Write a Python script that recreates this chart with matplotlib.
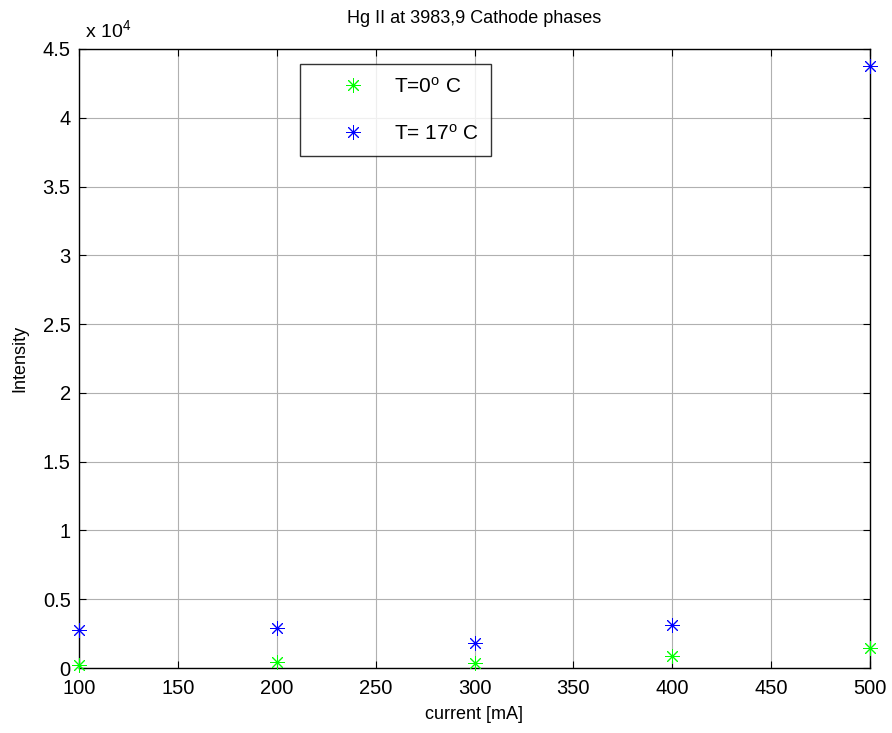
import matplotlib
matplotlib.use("Agg")
import matplotlib.pyplot as plt
from matplotlib.ticker import FuncFormatter, MultipleLocator

plt.rcParams['font.family'] = ['Liberation Sans', 'DejaVu Sans']
plt.rcParams['mathtext.fontset'] = 'custom'
plt.rcParams['mathtext.rm'] = 'Liberation Sans'
plt.rcParams['mathtext.it'] = 'Liberation Sans'

current = [100, 200, 300, 400, 500]
intensity_T0 = [250, 400, 350, 870, 1450]
intensity_T17 = [2750, 2900, 1800, 3100, 43750]

title = "Hg II at 3983,9 Cathode phases"
labels = ["T=0$^{\\mathrm{o}}$ C", "T= 17$^{\\mathrm{o}}$ C"]

fig = plt.figure(figsize=(8.92, 7.33), dpi=100)
ax = fig.add_axes([79/892, 1-668/733, (870-79)/892, (668-49)/733])

mk = (8, 2, 0)
ax.plot(current, intensity_T0, linestyle='none', marker=mk, color='#00ff00',
        markersize=10.5, markeredgewidth=0.7, label=labels[0], clip_on=False, zorder=5)
ax.plot(current, intensity_T17, linestyle='none', marker=mk, color='#0000ff',
        markersize=10.5, markeredgewidth=0.7, label=labels[1], clip_on=False, zorder=5)

ax.set_xlim(100, 500)
ax.set_ylim(0, 45000)
ax.xaxis.set_major_locator(MultipleLocator(50))
ax.yaxis.set_major_locator(MultipleLocator(5000))
ax.yaxis.set_major_formatter(FuncFormatter(lambda v, p: ('%g' % (v / 1e4))))
ax.grid(True, color='#b0b0b0', linewidth=0.8)
ax.set_axisbelow(True)
ax.tick_params(direction='in', length=5, labelsize=14.5, top=True, right=True, width=0.8)
ax.tick_params(axis='x', pad=8)
ax.tick_params(axis='y', pad=6)
for s in ax.spines.values():
    s.set_linewidth(1.0)

ax.set_xlabel("current [mA]", fontsize=13, labelpad=6)
ax.set_ylabel("Intensity", fontsize=13, labelpad=10)
ax.set_title(title, fontsize=13, pad=19)
ax.text(0.008, 1.012, "x 10$^{\\mathrm{4}}$", transform=ax.transAxes, fontsize=14,
        ha='left', va='bottom')

leg = ax.legend(loc='upper left', bbox_to_anchor=((300-79)/791, (668-64)/619),
                fontsize=15, frameon=True, fancybox=False, edgecolor='black',
                borderpad=0.6, labelspacing=1.3, handletextpad=0.05, handlelength=3.85,
                borderaxespad=0)
leg.get_frame().set_linewidth(1.0)

fig.savefig("out.png", dpi=100, facecolor='white')
